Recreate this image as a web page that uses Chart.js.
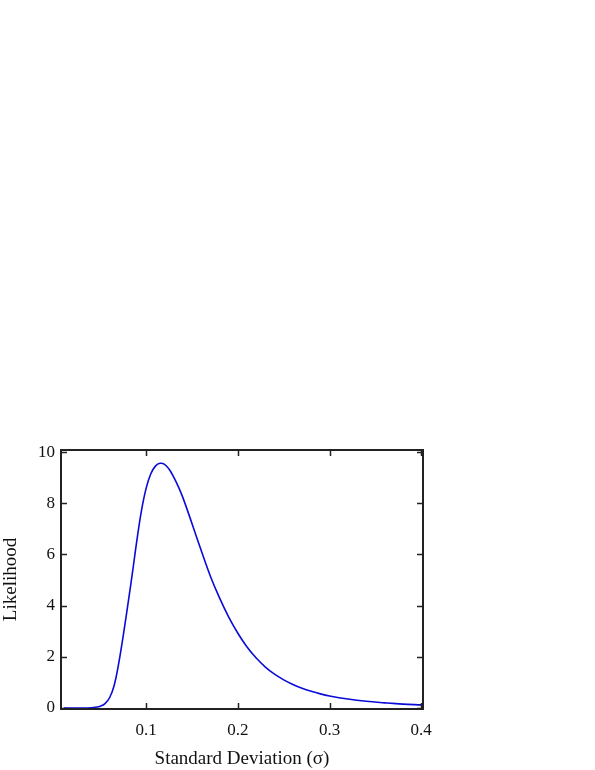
<!DOCTYPE html>
<html>
<head>
<meta charset="utf-8">
<script src="https://cdn.jsdelivr.net/npm/chart.js@4.4.0/dist/chart.umd.min.js"></script>
<style>
  html, body { margin: 0; padding: 0; background: #fff; }
  #wrap { position: absolute; left: 0; top: 0; width: 595px; height: 770px; }
</style>
</head>
<body>
<div id="wrap"><canvas id="likeChart" width="595" height="770"></canvas></div>
<script>
// data
const sigma = [0.01, 0.02, 0.03, 0.04, 0.045, 0.05, 0.055, 0.06, 0.065, 0.07, 0.075, 0.08, 0.085, 0.09, 0.095,
    0.10, 0.105, 0.11, 0.115, 0.12, 0.125, 0.13, 0.135, 0.14, 0.15, 0.16, 0.17, 0.18, 0.19, 0.20,
    0.21, 0.22, 0.23, 0.24, 0.25, 0.26, 0.27, 0.28, 0.29, 0.30, 0.32, 0.34, 0.36, 0.38, 0.40];
const likelihood = [0, 0, 0, 0.01, 0.03, 0.07, 0.17, 0.4, 0.88, 1.75, 2.85, 4.05, 5.3, 6.6, 7.75,
    8.6, 9.15, 9.45, 9.56, 9.52, 9.33, 9.02, 8.65, 8.22, 7.2, 6.15, 5.15, 4.3, 3.55, 2.92,
    2.38, 1.95, 1.6, 1.32, 1.1, 0.92, 0.77, 0.65, 0.55, 0.47, 0.35, 0.26, 0.2, 0.15, 0.12];
const xTicks = [0.1, 0.2, 0.3, 0.4];
const yTicks = [0, 2, 4, 6, 8, 10];

const FONT = "'Liberation Serif', 'DejaVu Serif', serif";

// frame + inward ticks on all four sides
const framePlugin = {
    id: "frame",
    afterDraw(chart) {
        const { ctx, chartArea: a, scales } = chart;
        ctx.save();
        ctx.strokeStyle = "#222";
        ctx.lineWidth = 2;
        ctx.strokeRect(a.left, a.top, a.right - a.left, a.bottom - a.top);
        ctx.lineWidth = 1.5;
        const len = 6;
        ctx.beginPath();
        xTicks.forEach(v => {
            const px = Math.round(scales.x.getPixelForValue(v)) + 0.5;
            ctx.moveTo(px, a.bottom); ctx.lineTo(px, a.bottom - len);
            ctx.moveTo(px, a.top); ctx.lineTo(px, a.top + len);
        });
        yTicks.forEach(v => {
            const py = Math.round(scales.y.getPixelForValue(v)) + 0.5;
            ctx.moveTo(a.left, py); ctx.lineTo(a.left + len, py);
            ctx.moveTo(a.right, py); ctx.lineTo(a.right - len, py);
        });
        ctx.stroke();
        ctx.restore();
    }
};

new Chart(document.getElementById("likeChart").getContext("2d"), {
    type: "line",
    data: {
        datasets: [{
            data: sigma.map((s, i) => ({ x: s, y: likelihood[i] })),
            borderColor: "#0a0ad8",
            borderWidth: 1.6,
            pointRadius: 0,
            tension: 0.4,
            fill: false
        }]
    },
    options: {
        responsive: false,
        animation: false,
        layout: { padding: { left: 0, right: 172, top: 450, bottom: 0 } },
        plugins: { legend: { display: false }, tooltip: { enabled: false } },
        scales: {
            x: {
                type: "linear",
                min: 0.007,
                max: 0.402,
                grid: { display: false, drawTicks: false },
                border: { display: false },
                afterBuildTicks: s => { s.ticks = xTicks.map(v => ({ value: v })); },
                afterFit: s => { s.height = 61; },
                ticks: {
                    color: "#111",
                    padding: 11,
                    maxRotation: 0,
                    font: { family: FONT, size: 17 },
                    callback: v => v.toFixed(1)
                },
                title: {
                    display: true,
                    text: "Standard Deviation (σ)",
                    color: "#111",
                    font: { family: FONT, size: 19 },
                    padding: { top: 8, bottom: 0 }
                }
            },
            y: {
                min: -0.04,
                max: 10.08,
                grid: { display: false, drawTicks: false },
                border: { display: false },
                afterBuildTicks: s => { s.ticks = yTicks.map(v => ({ value: v })); },
                afterFit: s => { s.width = 61; },
                ticks: {
                    color: "#111",
                    padding: 6,
                    font: { family: FONT, size: 17 },
                    callback: v => String(v)
                },
                title: {
                    display: true,
                    text: "Likelihood",
                    color: "#111",
                    font: { family: FONT, size: 19 },
                    padding: { top: 0, bottom: 0 }
                }
            }
        }
    },
    plugins: [framePlugin]
});
</script>
</body>
</html>
